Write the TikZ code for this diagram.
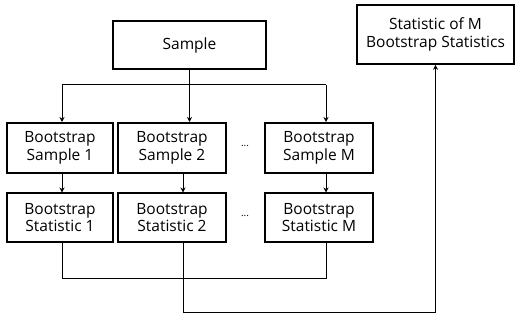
\documentclass[tikz,border=0pt]{standalone}
\usepackage{fontspec}
\setmainfont{Open Sans}
\usetikzlibrary{arrows.meta}
\begin{document}
\begin{tikzpicture}[x=1pt,y=-1pt,
  boxst/.style={draw,line width=1.6pt,inner sep=0pt,align=center,font=\fontsize{15.5}{17.5}\selectfont},
  conn/.style={line width=1pt},
  arr/.style={conn,-{Stealth[length=5pt,width=5pt]}},
  dots/.style={font=\fontsize{10}{12}\selectfont,inner sep=0pt}]
\useasboundingbox (0,0) rectangle (518,323);
\node[boxst,minimum width=153pt,minimum height=48pt] (s) at (189.5,45) {Sample};
\node[boxst,minimum width=157pt,minimum height=59pt] (st) at (435.5,34.5) {Statistic of M\\Bootstrap Statistics};
\node[boxst,minimum width=106pt,minimum height=50pt] (b1) at (60,148) {Bootstrap\\Sample 1};
\node[boxst,minimum width=108pt,minimum height=50pt] (b2) at (172,148) {Bootstrap\\Sample 2};
\node[boxst,minimum width=108pt,minimum height=50pt] (bm) at (319,148) {Bootstrap\\Sample M};
\node[boxst,minimum width=106pt,minimum height=49pt] (c1) at (60,217.5) {Bootstrap\\Statistic 1};
\node[boxst,minimum width=108pt,minimum height=49pt] (c2) at (172,217.5) {Bootstrap\\Statistic 2};
\node[boxst,minimum width=108pt,minimum height=49pt] (cm) at (319,217.5) {Bootstrap\\Statistic M};
\node[dots] (d1) at (245,146) {...};
\node[dots] (d2) at (245,216) {...};
\coordinate (sj) at (189.5,85);
\coordinate (l1) at (62,85);
\coordinate (lm) at (326,85);
\draw[conn] (s.south) -- (sj);
\draw[conn] (l1) -- (lm);
\draw[arr] (sj) -- (189.5,122);
\draw[arr] (l1) -- (62,122);
\draw[arr] (lm) -- (326,122);
\draw[arr] (62,173) -- (62,192.5);
\draw[arr] (183,173) -- (183,192.5);
\draw[arr] (326,173) -- (326,192.5);
\coordinate (j1) at (62,278);
\coordinate (j2) at (183,278);
\coordinate (jm) at (326,278);
\draw[conn] (62,242) -- (j1) -- (jm) -- (326,242);
\coordinate (bot) at (183,312);
\coordinate (br) at (435.5,312);
\draw[arr] (183,242) -- (bot) -- (br) -- (st.south);
\end{tikzpicture}
\end{document}
